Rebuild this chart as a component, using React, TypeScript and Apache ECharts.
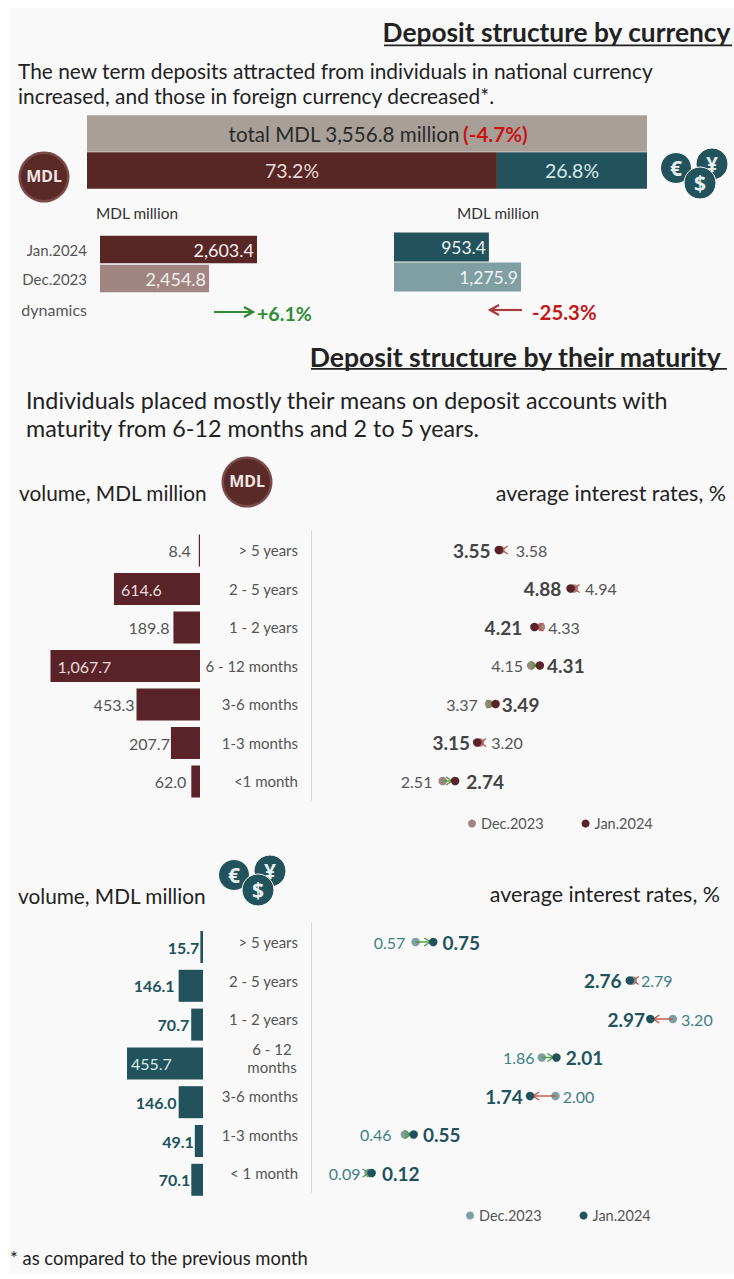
import React, { useEffect, useRef } from "react";
import * as echarts from "echarts";

const FONT = "Lato, sans-serif";
const BODY = "Lato, sans-serif";
const MAROON = "#5a2229";
const MAROON_TOP = "#582624";
const MAROON_DEC = "#a08583";
const TEAL = "#22535c";
const TEAL_DEC = "#7f9fa3";

const shareCategories = ["total", "split"];
const shareMdl = [73.2];
const shareFx = [26.8];
const totalLabel = "total MDL 3,556.8 million";
const totalChange = "(-4.7%)";

const monthCategories = ["Jan.2024", "Dec.2023"];
const mdlTotals = [2603.4, 2454.8];
const fxTotals = [953.4, 1275.9];
const mdlDynamics = "+6.1%";
const fxDynamics = "-25.3%";

const termsMdl = ["> 5 years", "2 - 5 years", "1 - 2 years", "6 - 12 months", "3-6 months", "1-3 months", "<1 month"];
const termsFx = ["> 5 years", "2 - 5 years", "1 - 2 years", "6 - 12\nmonths", "3-6 months", "1-3 months", "< 1 month"];
const volumeMdl = [8.4, 614.6, 189.8, 1067.7, 453.3, 207.7, 62.0];
const volumeFx = [15.7, 146.1, 70.7, 455.7, 146.0, 49.1, 70.1];
const rateMdlJan = [3.55, 4.88, 4.21, 4.31, 3.49, 3.15, 2.74];
const rateMdlDec = [3.58, 4.94, 4.33, 4.15, 3.37, 3.20, 2.51];
const rateFxJan = [0.75, 2.76, 2.97, 2.01, 1.74, 0.55, 0.12];
const rateFxDec = [0.57, 2.79, 3.20, 1.86, 2.00, 0.46, 0.09];

const labelGapsMdl = [8, 7, 4, 7, 2, 1, 5];
const labelGapsFx = [1, 4, 2, 4, 2, 1, 1];
const janGapsMdl = [4, 5, 8, 3, 2, 3, 7];
const decGapsMdl = [11, 7, 3, 4, 7, 7, 6];
const janGapsFx = [5, 4, 1, 5, 3, 5, 6];
const decGapsFx = [6, 4, 4, 3, 3, 9, 4];

const fmt = (v: number) => v.toLocaleString("en-US", { minimumFractionDigits: 1, maximumFractionDigits: 1 });

function txt(text: string, x: number, y: number, fontSize: number, fill = "#222", extra: any = {}) {
  return {
    type: "text",
    z: 10,
    style: { text, x, y, fontSize, fill, fontFamily: FONT, textVerticalAlign: "middle", ...extra },
  };
}

function coinMdl(cx: number, cy: number) {
  return {
    type: "group",
    z: 10,
    children: [
      { type: "circle", shape: { cx, cy, r: 25.5 }, style: { fill: "#7a4a48" } },
      { type: "circle", shape: { cx, cy, r: 23 }, style: { fill: "#5a2a28" } },
      { type: "text", style: { text: "MDL", x: cx, y: cy - 1, fontSize: 16, fontWeight: "bold", fontFamily: "'Noto Sans', sans-serif", fill: "#f1e6e4", textAlign: "center", textVerticalAlign: "middle" } },
    ],
  };
}

function coinsFx(cx: number, cy: number) {
  const coin = (x: number, y: number, r: number, s: string) => [
    { type: "circle", shape: { cx: x, cy: y, r }, style: { fill: TEAL, stroke: "#f9f9f9", lineWidth: 1 } },
    { type: "text", style: { text: s, x, y, fontSize: 21, fontWeight: "bold", fontFamily: "'Noto Sans', sans-serif", fill: "#e6f0f0", textAlign: "center", textVerticalAlign: "middle" } },
  ];
  return {
    type: "group",
    z: 10,
    children: [...coin(cx - 19, cy - 7, 15.5, "€"), ...coin(cx + 17, cy - 11, 16, "¥"), ...coin(cx + 5, cy + 8, 16, "$")],
  };
}

function volumeSeries(values: number[], gaps: number[], color: string, xi: number, yi: number, insideFrom: number, insideColor: string, outsideColor: string, weight: string) {
  return {
    type: "bar",
    xAxisIndex: xi,
    yAxisIndex: yi,
    barWidth: 32,
    itemStyle: { color },
    data: values.map((v, i) => ({
      value: v,
      label: {
        show: true,
        position: v > insideFrom ? "insideLeft" : "left",
        distance: gaps[i],
        color: v > insideFrom ? insideColor : outsideColor,
        fontWeight: v > insideFrom ? "normal" : weight,
        fontSize: 16,
        fontFamily: FONT,
        formatter: fmt(v),
      },
    })),
  };
}

function rateSeries(name: string, own: number[], other: number[], gaps: number[], isJan: boolean, color: string, labelColor: string, xi: number, yi: number) {
  return {
    type: "scatter",
    name,
    xAxisIndex: xi,
    yAxisIndex: yi,
    symbol: "circle",
    symbolSize: 8.5,
    z: isJan ? 5 : 3,
    itemStyle: { color, opacity: 1 },
    data: own.map((v, i) => ({
      value: [v, i],
      label: {
        show: true,
        position: v >= other[i] ? "right" : "left",
        distance: gaps[i],
        color: labelColor,
        fontFamily: FONT,
        fontSize: isJan ? 19 : 16,
        fontWeight: isJan ? "bold" : "normal",
        formatter: v.toFixed(2),
      },
    })),
  };
}

function arrowSeries(jan: number[], dec: number[], xi: number, yi: number) {
  return {
    type: "custom",
    xAxisIndex: xi,
    yAxisIndex: yi,
    z: 4,
    encode: { x: [0, 2], y: 1 },
    silent: true,
    data: jan.map((v, i) => [dec[i], i, v]),
    renderItem: (_: any, api: any) => {
      const a = api.coord([api.value(0), api.value(1)]);
      const b = api.coord([api.value(2), api.value(1)]);
      const dir = b[0] >= a[0] ? 1 : -1;
      const color = dir > 0 ? "#4f9a3f" : "#c2514c";
      const tip = b[0] - dir * 3;
      const back = tip - dir * 6;
      return {
        type: "group",
        children: [
          { type: "line", shape: { x1: a[0], y1: a[1], x2: tip, y2: b[1] }, style: { stroke: color, lineWidth: 1.4 } },
          { type: "polyline", shape: { points: [[back, b[1] - 4], [tip, b[1]], [back, b[1] + 4]] }, style: { stroke: color, lineWidth: 1.4, fill: "none" } },
        ],
      };
    },
  };
}

const legendFor = (left: number, top: number, names: string[]) => ({
  left,
  top,
  orient: "horizontal",
  data: names,
  icon: "circle",
  itemWidth: 8,
  itemHeight: 8,
  itemGap: 38,
  selectedMode: false,
  padding: 0,
  formatter: (n: string) => n.split("|")[0],
  textStyle: { fontFamily: FONT, fontSize: 14.5, color: "#555" },
});

const hiddenValue = (gridIndex: number, min: number, max: number, inverse = false) => ({
  type: "value",
  gridIndex,
  min,
  max,
  inverse,
  show: false,
  splitLine: { show: false },
});

export default function App() {
  const ref = useRef<HTMLDivElement>(null);
  useEffect(() => {
    const chart = echarts.init(ref.current!, null, { renderer: "svg" });
    const termAxis = (gridIndex: number, data: string[]) => ({
      type: "category",
      gridIndex,
      data,
      inverse: true,
      axisTick: { show: false },
      axisLine: { show: true, onZero: false, lineStyle: { color: "#d8d8d8", width: 1 } },
      axisLabel: {
        margin: 13,
        fontSize: 15,
        color: "#555",
        fontFamily: FONT,
        align: "right",
        formatter: (v: string) => (v.includes("\n") ? v.split("\n").map((s) => `{c|${s}}`).join("\n") : v),
        rich: { c: { width: 52, align: "center", fontSize: 15, color: "#555", fontFamily: FONT, lineHeight: 18 } },
      },
    });
    const hiddenCat = (gridIndex: number, data: string[]) => ({ type: "category", gridIndex, data, inverse: true, show: false });

    chart.setOption({
      animation: false,
      backgroundColor: "#ffffff",
      title: [
        { text: "Deposit structure by currency", right: 3, top: 19, padding: 0, textStyle: { fontFamily: BODY, fontSize: 26.3, fontWeight: "bold", color: "#222" } },
        { text: "Deposit structure by their maturity", right: 12, top: 343, padding: 0, textStyle: { fontFamily: BODY, fontSize: 26.6, fontWeight: "bold", color: "#222" } },
      ],
      legend: [
        legendFor(468, 816, ["Dec.2023|MDL", "Jan.2024|MDL"]),
        legendFor(466, 1208, ["Dec.2023|FX", "Jan.2024|FX"]),
      ],
      grid: [
        { left: 87, top: 115, width: 560, height: 74 },
        { left: 100, top: 235, width: 157, height: 58 },
        { left: 394, top: 232, width: 127, height: 60 },
        { left: 50.5, top: 531.25, width: 149.5, height: 269.5 },
        { left: 311, top: 530.75, width: 401, height: 269.5 },
        { left: 127, top: 927.6, width: 76, height: 271.6 },
        { left: 311, top: 922.75, width: 415.6, height: 269.5 },
      ],
      xAxis: [
        hiddenValue(0, 0, 100),
        hiddenValue(1, 2117, 2603.4),
        hiddenValue(2, 0, 1275.9),
        hiddenValue(3, 0, 1067.7, true),
        hiddenValue(4, 0.07, 7.5),
        hiddenValue(5, 0, 455.7, true),
        hiddenValue(6, -0.5, 3.75),
      ],
      yAxis: [
        hiddenCat(0, shareCategories),
        {
          type: "category",
          gridIndex: 1,
          data: monthCategories,
          inverse: true,
          axisLine: { show: false },
          axisTick: { show: false },
          axisLabel: { margin: 13, fontSize: 15, color: "#555", fontFamily: FONT },
        },
        hiddenCat(2, monthCategories),
        hiddenCat(3, termsMdl),
        termAxis(4, termsMdl),
        hiddenCat(5, termsFx),
        termAxis(6, termsFx),
      ],
      series: [
        {
          type: "bar",
          xAxisIndex: 0,
          yAxisIndex: 0,
          stack: "share",
          barWidth: 36.5,
          itemStyle: { color: "#a89f98" },
          data: [100, null],
          label: {
            show: true,
            position: "inside",
            offset: [11, 0],
            formatter: `{a|${totalLabel}} {b|${totalChange}}`,
            rich: {
              a: { fontFamily: FONT, fontSize: 20.6, color: "#2a2a2a" },
              b: { fontFamily: FONT, fontSize: 20.6, color: "#c81414", fontWeight: "bold" },
            },
          },
        },
        {
          type: "bar",
          xAxisIndex: 0,
          yAxisIndex: 0,
          stack: "share",
          barWidth: 36.5,
          itemStyle: { color: MAROON_TOP },
          data: [null, shareMdl[0]],
          label: { show: true, position: "inside", formatter: `${shareMdl[0]}%`, color: "#e8dcd8", fontFamily: FONT, fontSize: 19.5 },
        },
        {
          type: "bar",
          xAxisIndex: 0,
          yAxisIndex: 0,
          stack: "share",
          barWidth: 36.5,
          itemStyle: { color: TEAL },
          data: [null, shareFx[0]],
          label: { show: true, position: "inside", formatter: `${shareFx[0]}%`, color: "#d8e8ea", fontFamily: FONT, fontSize: 19.5 },
        },
        {
          type: "bar",
          xAxisIndex: 1,
          yAxisIndex: 1,
          barWidth: 27.5,
          data: [
            { value: mdlTotals[0], itemStyle: { color: MAROON_TOP } },
            { value: mdlTotals[1], itemStyle: { color: MAROON_DEC } },
          ],
          label: { show: true, position: "insideRight", distance: 3, color: "#f4eeee", fontSize: 18, fontFamily: FONT, formatter: (p: any) => fmt(p.value) },
        },
        {
          type: "bar",
          xAxisIndex: 2,
          yAxisIndex: 2,
          barWidth: 29,
          data: [
            { value: fxTotals[0], itemStyle: { color: TEAL } },
            { value: fxTotals[1], itemStyle: { color: TEAL_DEC } },
          ],
          label: { show: true, position: "insideRight", distance: 3, color: "#eef4f4", fontSize: 17.5, fontFamily: FONT, formatter: (p: any) => fmt(p.value) },
        },
        volumeSeries(volumeMdl, labelGapsMdl, MAROON, 3, 3, 500, "#ecdcdc", "#555", "normal"),
        arrowSeries(rateMdlJan, rateMdlDec, 4, 4),
        rateSeries("Dec.2023|MDL", rateMdlDec, rateMdlJan, decGapsMdl, false, MAROON_DEC, "#555", 4, 4),
        rateSeries("Jan.2024|MDL", rateMdlJan, rateMdlDec, janGapsMdl, true, MAROON, "#444", 4, 4),
        volumeSeries(volumeFx, labelGapsFx, TEAL, 5, 5, 200, "#d8ecec", TEAL, "bold"),
        arrowSeries(rateFxJan, rateFxDec, 6, 6),
        rateSeries("Dec.2023|FX", rateFxDec, rateFxJan, decGapsFx, false, TEAL_DEC, "#3f7f88", 6, 6),
        rateSeries("Jan.2024|FX", rateFxJan, rateFxDec, janGapsFx, true, TEAL, TEAL, 6, 6),
      ],
      graphic: [
        { type: "rect", z: -10, shape: { x: 10, y: 8, width: 724, height: 1266 }, style: { fill: "#f9f9f9" } },
        { type: "rect", z: 10, shape: { x: 384, y: 44.5, width: 348, height: 1.8 }, style: { fill: "#222" } },
        { type: "rect", z: 10, shape: { x: 311, y: 368, width: 416, height: 1.8 }, style: { fill: "#222" } },
        txt("The new term deposits attracted from individuals in national currency", 18, 70, 20.9, "#222"),
        txt("increased, and those in foreign currency decreased*.", 18, 95, 20.9, "#222"),
        txt("MDL million", 96, 213, 15.4, "#333"),
        txt("MDL million", 457, 213, 15.4, "#333"),
        txt("dynamics", 87, 309, 16, "#555", { textAlign: "right" }),
        { type: "line", z: 10, shape: { x1: 214, y1: 312, x2: 252, y2: 312 }, style: { stroke: "#2e8b37", lineWidth: 2.2 } },
        { type: "polyline", z: 10, shape: { points: [[244, 307], [253, 312], [244, 317]] }, style: { stroke: "#2e8b37", lineWidth: 2.2, fill: "none" } },
        txt(mdlDynamics, 257, 313, 19.6, "#2e8b37", { fontWeight: "bold" }),
        { type: "line", z: 10, shape: { x1: 491, y1: 310, x2: 522, y2: 310 }, style: { stroke: "#a83a3a", lineWidth: 2.2 } },
        { type: "polyline", z: 10, shape: { points: [[499, 305], [490, 310], [499, 315]] }, style: { stroke: "#a83a3a", lineWidth: 2.2, fill: "none" } },
        txt(fxDynamics, 532, 312, 20.4, "#c01a1a", { fontWeight: "bold" }),
        txt("Individuals placed mostly their means on deposit accounts with", 26, 400, 23.3, "#222"),
        txt("maturity from 6-12 months and 2 to 5 years.", 26, 428, 23.3, "#222"),
        txt("volume, MDL million", 19, 492, 20.8, "#222"),
        txt("average interest rates, %", 726, 493, 21.5, "#222", { textAlign: "right" }),
        txt("volume, MDL million", 18, 895, 20.8, "#222"),
        txt("average interest rates, %", 720, 894, 21.5, "#222", { textAlign: "right" }),
        txt("* as compared to the previous month", 10, 1258, 18.4, "#222"),
        coinMdl(44, 177),
        coinsFx(695, 175),
        coinMdl(247, 482),
        coinsFx(253, 882),
      ],
    });
    return () => chart.dispose();
  }, []);
  return <div ref={ref} style={{ position: "absolute", left: 0, top: 0, width: 734, height: 1279 }} />;
}
